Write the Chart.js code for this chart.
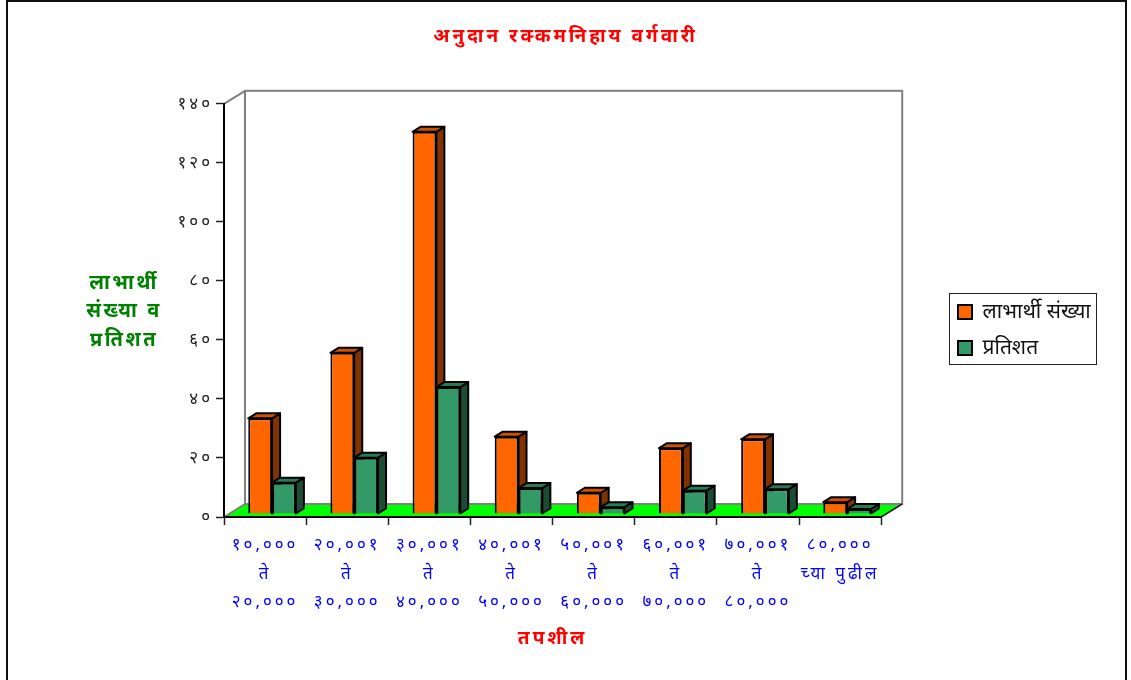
<!DOCTYPE html>
<html>
<head>
<meta charset="utf-8">
<title>अनुदान रक्कमनिहाय वर्गवारी</title>
<script src="https://cdn.jsdelivr.net/npm/chart.js@4"></script>
<style>
  html, body { margin: 0; padding: 0; background: #fff; overflow: hidden; }
  canvas { display: block; }
</style>
</head>
<body>
<canvas id="myChart" width="1131" height="680"></canvas>
<script>
// Data
var categories = [
  ["१०,०००", "ते", "२०,०००"],
  ["२०,००१", "ते", "३०,०००"],
  ["३०,००१", "ते", "४०,०००"],
  ["४०,००१", "ते", "५०,०००"],
  ["५०,००१", "ते", "६०,०००"],
  ["६०,००१", "ते", "७०,०००"],
  ["७०,००१", "ते", "८०,०००"],
  ["८०,०००", "च्या पुढील"]
];
var beneficiaries = [32.4, 54.6, 129.5, 26.2, 7.2, 22.3, 25.3, 4];
var percentages = [10.6, 19.1, 43, 8.8, 2.3, 7.9, 8.4, 1.7];
var yTickLabels = ["०", "२०", "४०", "६०", "८०", "१००", "१२०", "१४०"];
var seriesNames = ["लाभार्थी संख्या", "प्रतिशत"];
var yTitleLines = ["लाभार्थी", "संख्या व", "प्रतिशत"];

var devFont = "'Noto Sans', 'DejaVu Sans', sans-serif";

// fake 3D: back wall, floor and bar sides
var wallDX = 21, wallDY = 13;
var barShiftX = 7, barShiftY = 3;
var barDX = 8, barDY = 5;
var sideColors = [
  { top: "#cc5200", side: "#803300" },
  { top: "#297a52", side: "#1a4d33" }
];

function poly(ctx, pts, fill) {
  ctx.beginPath();
  ctx.moveTo(pts[0][0], pts[0][1]);
  for (var i = 1; i < pts.length; i++) ctx.lineTo(pts[i][0], pts[i][1]);
  ctx.closePath();
  if (fill) { ctx.fillStyle = fill; ctx.fill(); }
  ctx.stroke();
}

var fake3d = {
  id: "fake3d",
  afterLayout: function (chart) {
    // title over the full page, legend away from the plot
    chart.titleBlock.left = 0;
    chart.titleBlock.right = chart.width;
    var l = chart.legend;
    var w = l.width;
    l.left = 943; l.right = 943 + w;
    // bottom stays generous or the legend wraps into a second column
    l.top = 286.5; l.bottom = 286.5 + 120;
    if (!l._wrapped) {
      var draw = l.draw;
      l.draw = function () {
        var ctx = chart.ctx;
        ctx.letterSpacing = "0px";
        ctx.save();
        ctx.strokeStyle = "#222";
        ctx.lineWidth = 1;
        ctx.strokeRect(949.5, 293.5, 147, 71);
        ctx.restore();
        draw.apply(l, arguments);
        ctx.letterSpacing = "3px";
      };
      l._wrapped = true;
    }
  },
  beforeDraw: function (chart) {
    var ctx = chart.ctx, a = chart.chartArea;
    ctx.save();
    ctx.fillStyle = "#fff";
    ctx.fillRect(0, 0, chart.width, chart.height);
    ctx.strokeStyle = "#111";
    ctx.lineWidth = 2;
    ctx.strokeRect(7, 1, 1119, 720);

    // floor, then the wall over its back edge
    ctx.strokeStyle = "#00ff00";
    ctx.lineWidth = 1;
    poly(ctx, [[a.left, a.bottom], [a.left + wallDX, a.bottom - wallDY], [a.right + wallDX, a.bottom - wallDY], [a.right, a.bottom]], "#00ff00");
    ctx.strokeStyle = "#808080";
    ctx.lineWidth = 2;
    ctx.strokeRect(a.left + wallDX, a.top - wallDY, a.right - a.left, a.bottom - a.top);
    ctx.beginPath();
    ctx.moveTo(a.left, a.top);
    ctx.lineTo(a.left + wallDX, a.top - wallDY);
    ctx.moveTo(a.left, a.bottom);
    ctx.lineTo(a.left + wallDX, a.bottom - wallDY);
    ctx.stroke();
    ctx.strokeStyle = "#222";
    ctx.lineWidth = 1.5;
    ctx.beginPath();
    ctx.moveTo(a.right, a.bottom);
    ctx.lineTo(a.right + wallDX, a.bottom - wallDY);
    ctx.stroke();
    ctx.restore();
    ctx.letterSpacing = "3px";
  },
  // bars are drawn here, left series first, so green covers the orange side
  beforeDatasetsDraw: function (chart) {
    var ctx = chart.ctx;
    ctx.save();
    ctx.translate(barShiftX, -barShiftY);
    chart.data.datasets.forEach(function (ds, index) {
      var c = sideColors[index];
      chart.getDatasetMeta(index).data.forEach(function (bar) {
        var p = bar.getProps(["x", "y", "base", "width"], true);
        var l = p.x - p.width / 2, r = p.x + p.width / 2;
        ctx.strokeStyle = "#000";
        ctx.lineWidth = 2;
        ctx.lineJoin = "round";
        poly(ctx, [[r, p.base], [r + barDX, p.base - barDY], [r + barDX, p.y - barDY], [r, p.y]], c.side);
        poly(ctx, [[l, p.y], [l + barDX, p.y - barDY], [r + barDX, p.y - barDY], [r, p.y]], c.top);
        bar.draw(ctx);
      });
    });
    ctx.restore();
  },
  beforeDatasetDraw: function () {
    return false;
  },
  afterDraw: function (chart) {
    // the y title is horizontal, three lines
    var ctx = chart.ctx;
    ctx.save();
    ctx.letterSpacing = "2.5px";
    ctx.font = "bold 20px " + devFont;
    ctx.fillStyle = "#008000";
    ctx.textAlign = "center";
    ctx.textBaseline = "middle";
    var ys = [283, 311, 340];
    yTitleLines.forEach(function (t, i) {
      ctx.fillText(t, 124, ys[i]);
    });
    ctx.restore();
    ctx.letterSpacing = "0px";
  }
};

new Chart("myChart", {
  type: "bar",
  plugins: [fake3d],
  data: {
    labels: categories,
    datasets: [
      { label: seriesNames[0], data: beneficiaries, backgroundColor: "#ff6600", borderColor: "#000", borderWidth: 2 },
      { label: seriesNames[1], data: percentages, backgroundColor: "#339966", borderColor: "#000", borderWidth: 2 }
    ]
  },
  options: {
    responsive: false,
    animation: false,
    layout: { padding: { left: 0, right: 92, top: 0, bottom: 0 } },
    datasets: { bar: { categoryPercentage: 0.58, barPercentage: 1 } },
    plugins: {
      tooltip: { enabled: false },
      title: {
        display: true,
        text: "अनुदान रक्कमनिहाय वर्गवारी",
        color: "#ff0000",
        font: { family: devFont, size: 19, weight: "bold" },
        padding: { top: 25, bottom: 56 }
      },
      legend: {
        position: "right",
        align: "start",
        labels: {
          color: "#111",
          font: { family: devFont, size: 21 },
          boxWidth: 14,
          boxHeight: 14,
          padding: 15
        }
      }
    },
    scales: {
      x: {
        afterFit: function (s) { s.height = 163; },
        grid: { drawOnChartArea: false, color: "#222", tickLength: 8, tickWidth: 1.5 },
        border: { color: "#000", width: 2 },
        ticks: {
          color: "#0000ff",
          autoSkip: false,
          maxRotation: 0,
          padding: 6,
          font: { family: devFont, size: 17, lineHeight: 1.68 }
        },
        title: {
          display: true,
          text: "तपशील",
          color: "#ff0000",
          font: { family: devFont, size: 19, weight: "bold" },
          padding: { top: 4, bottom: 30 }
        }
      },
      y: {
        min: 0,
        max: 140,
        afterFit: function (s) { s.width = 224; },
        grid: { drawOnChartArea: false, color: "#222", tickLength: 8, tickWidth: 1.5 },
        border: { color: "#000", width: 2 },
        ticks: {
          stepSize: 20,
          color: "#222",
          padding: 3,
          font: { family: devFont, size: 17 },
          callback: function (value, index) { return yTickLabels[index]; }
        }
      }
    }
  }
});
</script>
</body>
</html>
